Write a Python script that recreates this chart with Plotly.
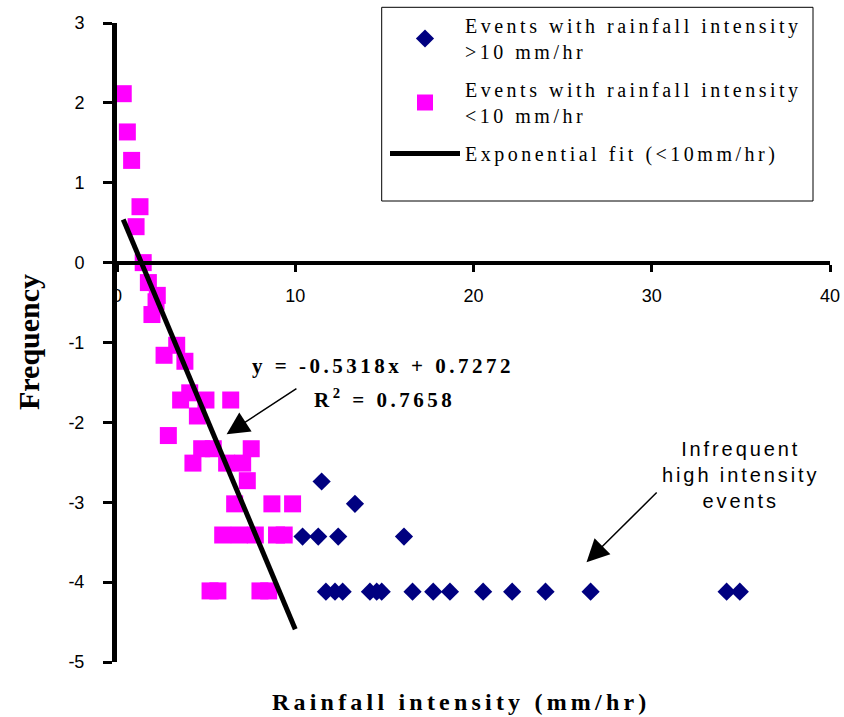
import plotly.graph_objects as go

# ---- data ----
high_x = [11.48, 13.35, 10.41, 11.29, 12.41, 16.10,
          11.72, 12.23, 12.66, 14.19, 14.57, 14.85, 16.58, 17.74, 18.68,
          20.54, 22.17, 24.04, 26.57, 34.20, 34.94]
high_y = [-2.74, -3.02, -3.43, -3.43, -3.43, -3.43,
          -4.12, -4.12, -4.12, -4.12, -4.12, -4.12, -4.12, -4.12, -4.12,
          -4.12, -4.12, -4.12, -4.12, -4.12, -4.12]

low_x = [0.35, 0.58, 0.82, 1.29, 1.07, 1.47, 1.76, 2.26, 2.19, 1.96,
         3.35, 2.64, 3.81, 4.08, 3.57, 4.99, 6.38, 4.51, 2.88,
         4.75, 5.40, 7.53, 4.26, 6.15, 7.05, 7.31,
         6.60, 8.69, 9.85, 5.93, 6.86, 7.76, 8.95, 9.38,
         5.22, 5.66, 8.02, 8.51]
low_y = [2.115, 1.636, 1.28, 0.70, 0.45, 0.00, -0.25, -0.41, -0.49, -0.65,
         -1.035, -1.16, -1.235, -1.63, -1.72, -1.72, -1.72, -1.92, -2.165,
         -2.33, -2.33, -2.33, -2.51, -2.51, -2.51, -2.73,
         -3.02, -3.02, -3.02, -3.41, -3.41, -3.41, -3.41, -3.41,
         -4.11, -4.11, -4.11, -4.11]

FIT_SLOPE = -0.5318
FIT_INTERCEPT = 0.7272
fit_x = [0.35, 10.0]
fit_y = [FIT_SLOPE * v + FIT_INTERCEPT for v in fit_x]

x_ticks = [0, 10, 20, 30, 40]
x_tick_labels = ["0", "10", "20", "30", "40"]
y_ticks = [-5, -4, -3, -2, -1, 0, 1, 2, 3]
y_tick_labels = ["-5", "-4", "-3", "-2", "-1", "0", "1", "2", "3"]

SERIF = "Liberation Serif, Times New Roman, serif"
SANS = "Liberation Sans, Arial, sans-serif"

# plot area in pixels (for placing free text)
L, R, T, B, W, H = 117, 14, 23, 55, 844, 717
PW, PH = W - L - R, H - T - B


def px(xp):
    return (xp - L) / PW


def py(yp):
    return (H - B - yp) / PH


def spaced(text, ls):
    return "<br>".join(f'<span style="letter-spacing:{ls}px">{t}</span>'
                       for t in text.split("\n"))


fig = go.Figure()
fig.add_trace(go.Scatter(
    x=high_x, y=high_y, mode="markers", cliponaxis=False,
    marker=dict(symbol="diamond", size=14, color="#000080"),
    name=spaced("Events with rainfall intensity\n&gt;10 mm/hr", 3.5),
    legendgroup="a"))
fig.add_trace(go.Scatter(
    x=low_x, y=low_y, mode="markers", cliponaxis=False,
    marker=dict(symbol="square", size=17, color="#FF00FF"),
    name=spaced("Events with rainfall intensity\n&lt;10 mm/hr", 3.5),
    legendgroup="b"))
fig.add_trace(go.Scatter(
    x=fit_x, y=fit_y, mode="lines", cliponaxis=False,
    line=dict(color="black", width=5),
    name=spaced("Exponential fit (&lt;10mm/hr)", 3.5),
    legendgroup="c"))

fig.update_layout(
    width=W, height=H,
    margin=dict(l=L, r=R, t=T, b=B, autoexpand=False),
    paper_bgcolor="white", plot_bgcolor="white",
    showlegend=True,
    legend=dict(x=px(385), y=py(6), xanchor="left", yanchor="top",
                font=dict(family=SERIF, size=20, color="black"),
                bgcolor="rgba(0,0,0,0)", borderwidth=0,
                itemwidth=70, tracegroupgap=9),
    xaxis=dict(range=[0, 40], tickvals=x_ticks, ticktext=x_tick_labels,
               anchor="free", position=0.625,
               showline=True, linecolor="black", linewidth=4,
               ticks="outside", ticklen=7, tickwidth=3, tickcolor="black",
               showgrid=False, zeroline=False, ticklabelstandoff=9,
               ticklabeloverflow="allow", automargin=False,
               tickfont=dict(family=SANS, size=18, color="black")),
    yaxis=dict(range=[-5, 3], tickvals=y_ticks, ticktext=y_tick_labels,
               showline=True, linecolor="black", linewidth=5,
               ticks="outside", ticklen=9, tickwidth=3, tickcolor="black",
               showgrid=False, zeroline=False, ticklabelstandoff=15,
               ticklabeloverflow="allow", automargin=False,
               tickfont=dict(family=SANS, size=18, color="black")),
)

# legend frame
fig.add_shape(type="rect", xref="paper", yref="paper",
              x0=px(381.7), x1=px(813), y0=py(201), y1=py(7.3),
              line=dict(color="black", width=1), fillcolor="rgba(0,0,0,0)")

ann = [
    dict(x=px(461), y=py(702),
         text="<b>" + spaced("Rainfall intensity (mm/hr)", 4.2) + "</b>",
         font=dict(family=SERIF, size=24, color="black")),
    dict(x=px(28), y=py(342), textangle=-90, text="<b>Frequency</b>",
         font=dict(family=SERIF, size=30, color="black")),
    dict(x=px(383), y=py(366),
         text="<b>" + spaced("y = -0.5318x + 0.7272", 3.5) + "</b>",
         font=dict(family=SERIF, size=21, color="black")),
    dict(x=px(384), y=py(398),
         text="<b>" + spaced("R<sup>2</sup> = 0.7658", 3.5) + "</b>",
         font=dict(family=SERIF, size=21, color="black")),
    dict(x=px(740), y=py(475),
         text=spaced("Infrequent\nhigh intensity\nevents", 2.9),
         font=dict(family=SANS, size=20, color="black")),
]
for a in ann:
    a.update(xref="paper", yref="paper", xanchor="center", yanchor="middle",
             showarrow=False)
arrows = [
    dict(x=6.15, y=-2.15, ax=10.15, ay=-1.565),
    dict(x=26.34, y=-3.75, ax=30.36, ay=-2.86),
]
for a in arrows:
    a.update(xref="x", yref="y", axref="x", ayref="y", text="", showarrow=True,
             arrowhead=2, arrowsize=3, arrowwidth=1.5, arrowcolor="black")
fig.update_layout(annotations=ann + arrows)

fig.write_html("out.html", config={"displayModeBar": False},
               post_script="document.body.style.margin='0px';"
                           "document.body.style.padding='0px';")
